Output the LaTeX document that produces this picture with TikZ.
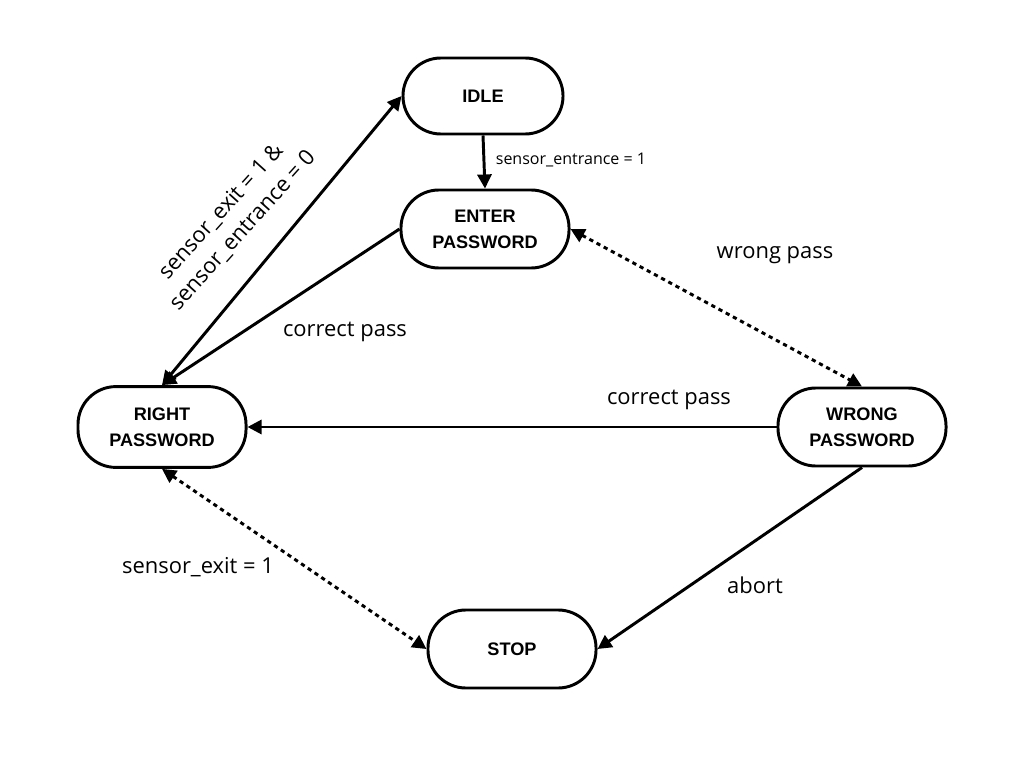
\documentclass[tikz,border=0pt]{standalone}
\usepackage{fontspec}
\setmainfont{Open Sans}
\newfontfamily\statefont{Liberation Sans}
\usetikzlibrary{arrows.meta}

\tikzset{
  state/.style={draw, line width=2.1pt, rounded corners=27pt, align=center,
    minimum width=4.2cm, minimum height=1.95cm,
    font=\statefont\bfseries\fontsize{12.9pt}{18.4pt}\selectfont},
  trans/.style={line width=2.1pt, -{Triangle[length=10pt,width=10pt]}},
  twoway/.style={line width=2.1pt, {Triangle[length=10pt,width=10pt]}-{Triangle[length=10pt,width=10pt]}},
  dotline/.style={dash pattern=on 3pt off 2.8pt},
  lbl/.style={inner sep=0pt, align=center, font=\fontsize{15.6pt}{20.5pt}\selectfont},
  smalllbl/.style={inner sep=0pt, font=\fontsize{11.4pt}{14pt}\selectfont}
}

\begin{document}
\begin{tikzpicture}[x=0.025cm, y=-0.025cm]

  \useasboundingbox (0,0) rectangle (1024,768);

  % States
  \node[state, minimum width=4cm, minimum height=1.9cm] (idle) at (483,96) {IDLE};
  \node[state] (enter) at (485,229) {ENTER\\PASSWORD};
  \node[state, minimum height=2.02cm] (right) at (162,427) {RIGHT\\PASSWORD};
  \node[state] (wrong) at (862,427) {WRONG\\PASSWORD};
  \node[state] (stop) at (512,649) {STOP};

  % Transitions
  \draw[trans] (idle.south) -- (enter.north);
  \draw[trans] (enter.west) -- (right.north);
  \draw[twoway] (right.north) -- (idle.west);
  \draw[twoway, dotline] (enter.east) -- (wrong.north);
  \draw[trans] (wrong.west) -- (right.east);
  \draw[twoway, dotline] (right.south) -- (stop.west);
  \draw[trans] (wrong.south) -- (stop.east);

  % Labels
  \node[smalllbl] (lentrance) at (571,160) {sensor\_entrance = 1};
  \node[lbl] (lcorrect) at (345,332) {correct pass};
  \node[lbl, rotate=48] (lexit) at (232,221) {sensor\_exit = 1 \&\\sensor\_entrance = 0};
  \node[lbl] (lwrong) at (775,255) {wrong pass};
  \node[lbl] (lcorrectb) at (669,400) {correct pass};
  \node[lbl] (lstop) at (198,567) {sensor\_exit = 1};
  \node[lbl] (labort) at (755,585) {abort};

\end{tikzpicture}
\end{document}
